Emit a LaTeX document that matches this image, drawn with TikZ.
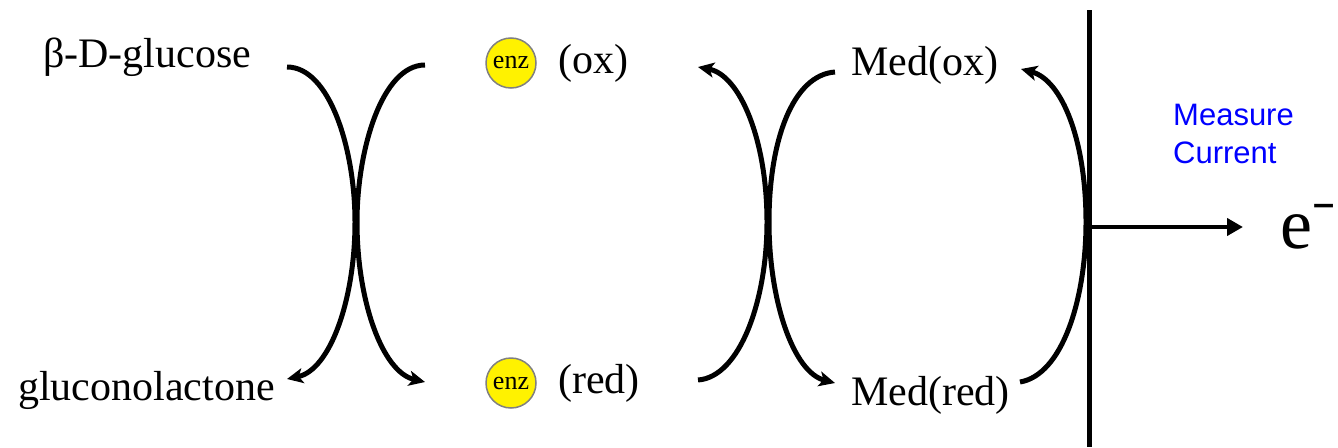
\documentclass[tikz,border=0pt]{standalone}
\usepackage{fontspec}
\setmainfont{Liberation Serif}
\setsansfont{Liberation Sans}
\newfontfamily\djv{DejaVu Sans}
\usetikzlibrary{arrows.meta}
\tikzset{
  lbl/.style={anchor=base west, inner sep=0pt, font=\fontsize{42}{50}\selectfont},
  enzc/.style={circle, fill=yellow, draw=gray, line width=1.5pt, minimum size=50pt, inner sep=0pt, font=\fontsize{26}{28}\selectfont},
  rxn/.style={line width=5pt, -{Stealth[length=16pt, width=15pt, inset=4pt]}},
}
\begin{document}
\begin{tikzpicture}[x=1pt, y=-1pt]
\useasboundingbox (0,0) rectangle (1338,447);
% labels
\node[lbl] (glc) at (43,67) {β-D-glucose};
\node[lbl] (gla) at (18,400) {gluconolactone};
\node[enzc] (enzox) at (511,63) {\raisebox{-2pt}{enz}};
\node[lbl] (ox) at (558,73) {(ox)};
\node[enzc] (enzred) at (511,383) {\raisebox{-2pt}{enz}};
\node[lbl] (red) at (558,393) {(red)};
\node[lbl] (medox) at (851,75) {Med(ox)};
\node[lbl] (medred) at (851,405) {Med(red)};
\node[anchor=base west, inner sep=0pt, align=left, text=blue, font=\sffamily\fontsize{31}{38}\selectfont] (mc) at (1173,163) {Measure\\Current};
\node[anchor=base west, inner sep=0pt, font=\fontsize{72}{80}\selectfont] (el) at (1280,248) {e\hspace{-1pt}\raisebox{33pt}{\djv\bfseries\fontsize{30}{30}\selectfont −}};
% electrode
\coordinate (et) at (1089,10);
\coordinate (eb) at (1089,447);
\draw[line width=5pt] (et) -- (eb);
\coordinate (ea) at (1089,227);
\coordinate (eh) at (1243,227);
\draw[line width=4pt, -{Triangle[length=16pt, width=17pt]}] (ea) -- (eh);
% curve endpoints
\coordinate (a1) at (287,67);  \coordinate (a2) at (287,379);
\coordinate (b1) at (425,65);  \coordinate (b2) at (425,382);
\coordinate (c1) at (698,380); \coordinate (c2) at (698,67);
\coordinate (d1) at (835,72);  \coordinate (d2) at (835,383);
\coordinate (f1) at (1020,382); \coordinate (f2) at (1021,69);
\draw[rxn] (a1) .. controls (330,67) and (355,150) .. (355,222) .. controls (355,300) and (330,370) .. (a2);
\draw[rxn] (b1) .. controls (382,65) and (357,150) .. (357,222) .. controls (357,300) and (382,372) .. (b2);
\draw[rxn] (c1) .. controls (740,377) and (767,300) .. (767,222) .. controls (767,140) and (740,75) .. (c2);
\draw[rxn] (d1) .. controls (793,75) and (769,140) .. (769,222) .. controls (769,300) and (793,372) .. (d2);
\draw[rxn] (f1) .. controls (1062,375) and (1086,300) .. (1086,222) .. controls (1086,140) and (1062,80) .. (f2);
\end{tikzpicture}
\end{document}
